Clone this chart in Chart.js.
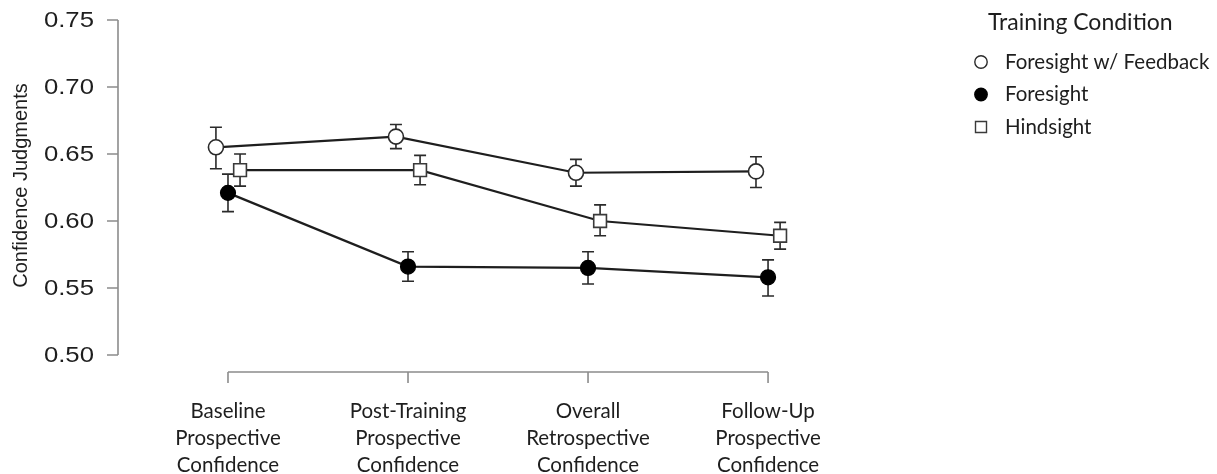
<!DOCTYPE html>
<html>
<head>
<meta charset="utf-8">
<script src="https://cdn.jsdelivr.net/npm/chart.js@4.4.1/dist/chart.umd.min.js"></script>
<style>
  html, body { margin: 0; padding: 0; background: #fff; overflow: hidden; }
  #wrap { width: 1217px; height: 474px; position: relative; }
</style>
</head>
<body>
<div id="wrap"><canvas id="c" width="1217" height="474"></canvas></div>
<script>
// Phases of the study, shown as three-line labels under the x axis
const categories = [
  ['Baseline', 'Prospective', 'Confidence'],
  ['Post-Training', 'Prospective', 'Confidence'],
  ['Overall', 'Retrospective', 'Confidence'],
  ['Follow-Up', 'Prospective', 'Confidence']
];
const yTicks = [0.50, 0.55, 0.60, 0.65, 0.70, 0.75];
const yTitle = 'Confidence Judgments';
const legendTitle = 'Training Condition';
const seriesNames = ['Foresight w/ Feedback', 'Foresight', 'Hindsight'];

// Means with lower / upper error-bar ends per phase
const feedbackMean = [0.655, 0.663, 0.636, 0.637];
const feedbackLow  = [0.639, 0.654, 0.626, 0.625];
const feedbackHigh = [0.670, 0.672, 0.646, 0.648];

const foresightMean = [0.621, 0.566, 0.565, 0.558];
const foresightLow  = [0.607, 0.555, 0.553, 0.544];
const foresightHigh = [0.635, 0.577, 0.577, 0.571];

const hindsightMean = [0.638, 0.638, 0.600, 0.589];
const hindsightLow  = [0.626, 0.627, 0.589, 0.579];
const hindsightHigh = [0.650, 0.649, 0.612, 0.599];

// Horizontal offset of each group around its phase position
const dodge = [-0.067, 0, 0.067];

const LABEL_FONT = 'Lato, "Open Sans", sans-serif';
const AXIS_FONT = '"Liberation Sans", Arial, sans-serif';
const INK = '#1e1e1e';
const AXIS_GREY = '#8c8c8c';

function buildPoints(means, lows, highs, off) {
  return means.map((m, i) => ({ x: i + 1 + off, y: m, low: lows[i], high: highs[i] }));
}

const datasets = [
  {
    label: seriesNames[0],
    data: buildPoints(feedbackMean, feedbackLow, feedbackHigh, dodge[0]),
    pointStyle: 'circle', pointRadius: 7.5,
    pointBackgroundColor: '#ffffff', pointBorderColor: '#2a2a2a', pointBorderWidth: 1.6
  },
  {
    label: seriesNames[1],
    data: buildPoints(foresightMean, foresightLow, foresightHigh, dodge[1]),
    pointStyle: 'circle', pointRadius: 7.5,
    pointBackgroundColor: '#000000', pointBorderColor: '#000000', pointBorderWidth: 1.2
  },
  {
    label: seriesNames[2],
    data: buildPoints(hindsightMean, hindsightLow, hindsightHigh, dodge[2]),
    pointStyle: 'rect', pointRadius: 9,
    pointBackgroundColor: '#ffffff', pointBorderColor: '#3a3a3a', pointBorderWidth: 1.6
  }
].map(d => Object.assign({
  showLine: true, borderColor: INK, borderWidth: 2.2, tension: 0,
  pointHoverRadius: d.pointRadius, clip: false
}, d));

// Error bars, drawn underneath the lines and markers
const errorBars = {
  id: 'errorBars',
  beforeDatasetsDraw(chart) {
    const { ctx } = chart;
    const ys = chart.scales.y;
    ctx.save();
    ctx.strokeStyle = '#2a2a2a';
    ctx.lineWidth = 1.6;
    chart.data.datasets.forEach((ds, di) => {
      const meta = chart.getDatasetMeta(di);
      meta.data.forEach((pt, i) => {
        const v = ds.data[i];
        const yl = ys.getPixelForValue(v.low);
        const yh = ys.getPixelForValue(v.high);
        const x = pt.x;
        ctx.beginPath();
        ctx.moveTo(x, yl); ctx.lineTo(x, yh);
        ctx.moveTo(x - 6, yl); ctx.lineTo(x + 6, yl);
        ctx.moveTo(x - 6, yh); ctx.lineTo(x + 6, yh);
        ctx.stroke();
      });
    });
    ctx.restore();
  }
};

// Text drawn with a slight horizontal widening, anchored at its right edge
function wideTextRight(ctx, text, xRight, y, sx) {
  ctx.save();
  ctx.translate(xRight, y);
  ctx.scale(sx, 1);
  ctx.textAlign = 'right';
  ctx.fillText(text, 0, 0);
  ctx.restore();
}

// Detached axes in the classic base-graphics style, plus text and legend
const axesAndText = {
  id: 'axesAndText',
  beforeDatasetsDraw(chart) {
    const { ctx, chartArea } = chart;
    const xs = chart.scales.x, ys = chart.scales.y;
    ctx.save();
    ctx.strokeStyle = AXIS_GREY;
    ctx.lineWidth = 1.6;

    // y axis
    const yAxisX = chartArea.left;
    const yTop = ys.getPixelForValue(yTicks[yTicks.length - 1]);
    const yBot = ys.getPixelForValue(yTicks[0]);
    ctx.beginPath();
    ctx.moveTo(yAxisX, yTop); ctx.lineTo(yAxisX, yBot);
    yTicks.forEach(t => {
      const y = ys.getPixelForValue(t);
      ctx.moveTo(yAxisX - 11, y); ctx.lineTo(yAxisX, y);
    });
    ctx.stroke();

    ctx.fillStyle = INK;
    ctx.font = '22px ' + AXIS_FONT;
    ctx.textBaseline = 'middle';
    yTicks.forEach(t => {
      wideTextRight(ctx, t.toFixed(2), yAxisX - 24, ys.getPixelForValue(t) + 1, 1.17);
    });

    ctx.save();
    ctx.translate(21, (yTop + yBot) / 2 - 2);
    ctx.rotate(-Math.PI / 2);
    ctx.font = '20px ' + AXIS_FONT;
    ctx.textAlign = 'center';
    ctx.textBaseline = 'middle';
    ctx.fillText(yTitle, 0, 0);
    ctx.restore();

    // x axis, spanning first to last phase
    const xAxisY = yBot + 17;
    const xFirst = xs.getPixelForValue(1);
    const xLast = xs.getPixelForValue(categories.length);
    ctx.beginPath();
    ctx.moveTo(xFirst, xAxisY); ctx.lineTo(xLast, xAxisY);
    categories.forEach((c, i) => {
      const x = xs.getPixelForValue(i + 1);
      ctx.moveTo(x, xAxisY); ctx.lineTo(x, xAxisY + 11);
    });
    ctx.stroke();

    ctx.font = '20.5px ' + LABEL_FONT;
    ctx.textAlign = 'center';
    ctx.textBaseline = 'middle';
    categories.forEach((lines, i) => {
      const x = xs.getPixelForValue(i + 1);
      lines.forEach((s, k) => ctx.fillText(s, x, xAxisY + 39 + k * 27));
    });
    ctx.restore();
  },
  afterDraw(chart) {
    const { ctx } = chart;
    ctx.save();
    ctx.fillStyle = INK;
    ctx.textBaseline = 'middle';
    ctx.textAlign = 'left';
    ctx.font = '23px ' + LABEL_FONT;
    ctx.fillText(legendTitle, 988, 23);

    ctx.font = '20.5px ' + LABEL_FONT;
    chart.data.datasets.forEach((ds, i) => {
      const y = 62 + i * 32.5;
      const mx = 981;
      ctx.lineWidth = 1.4;
      ctx.strokeStyle = ds.pointBorderColor;
      ctx.fillStyle = ds.pointBackgroundColor;
      ctx.beginPath();
      if (ds.pointStyle === 'rect') {
        ctx.rect(mx - 5.5, y - 5.5, 11, 11);
      } else {
        ctx.arc(mx, y, 6.2, 0, Math.PI * 2);
      }
      ctx.fill();
      ctx.stroke();
      ctx.fillStyle = INK;
      ctx.fillText(ds.label, 1005, y);
    });
    ctx.restore();
  }
};

new Chart(document.getElementById('c'), {
  type: 'scatter',
  data: { datasets },
  options: {
    responsive: false,
    animation: false,
    devicePixelRatio: 1,
    layout: { padding: { left: 118, top: 20, right: 317, bottom: 85.5 } },
    scales: {
      x: { type: 'linear', min: 0.389, max: 4.733, display: false },
      y: { type: 'linear', min: 0.475, max: 0.75, display: false }
    },
    plugins: { legend: { display: false }, tooltip: { enabled: false } },
    events: []
  },
  plugins: [errorBars, axesAndText]
});
</script>
</body>
</html>
